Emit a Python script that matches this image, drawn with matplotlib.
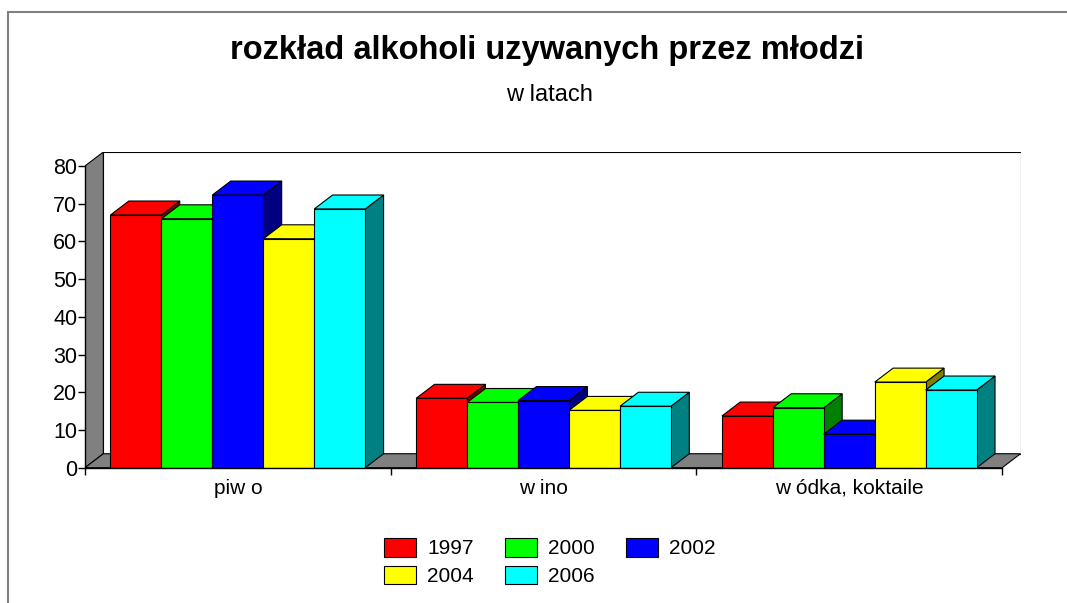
import matplotlib.pyplot as plt
from matplotlib.patches import Rectangle, Polygon, Patch

plt.rcParams['font.family'] = ['Liberation Sans', 'DejaVu Sans']

# data
categories = ['piw o', 'w ino', 'w ódka, koktaile']
years = ['1997', '2000', '2002', '2004', '2006']
v1997 = [67.0, 18.4, 13.7]
v2000 = [66.0, 17.3, 15.9]
v2002 = [72.3, 17.8, 8.9]
v2004 = [60.7, 15.2, 22.7]
v2006 = [68.6, 16.3, 20.6]
series = [v1997, v2000, v2002, v2004, v2006]

front_cols = ['#FF0000', '#00FF00', '#0000FF', '#FFFF00', '#00FFFF']
side_cols = ['#800000', '#008000', '#000080', '#808000', '#008080']
wall = '#808080'

W, H = 1067, 603
fig = plt.figure(figsize=(W / 100, H / 100), dpi=100)

# outer chart-area frame (cut off at right and bottom)
fig.add_artist(Rectangle((8 / W, -0.1), 1.2, 1.1 - 12 / H, transform=fig.transFigure,
                         fill=False, ec='#808080', lw=1.5))

ax = fig.add_axes([85 / W, 1 - 467.7 / H, 935.5 / W, 315.7 / H])
dx, dy = 0.06, 3.7          # depth offset of the 3-D effect (data units)
ymax = 80
n = len(categories)
ax.set_xlim(-0.5, n - 0.5 + dx)
ax.set_ylim(0, ymax + dy)

# walls and floor
x0, x1 = -0.5, n - 0.5
ax.add_patch(Rectangle((x0 + dx, dy), x1 - x0, ymax, fc='white', ec='black', lw=0.8, zorder=0))
ax.add_patch(Polygon([(x0, 0), (x0, ymax), (x0 + dx, ymax + dy), (x0 + dx, dy)],
                     fc=wall, ec='black', lw=0.8, zorder=1))
ax.add_patch(Polygon([(x0, 0), (x1, 0), (x1 + dx, dy), (x0 + dx, dy)],
                     fc=wall, ec='black', lw=0.8, zorder=1))


def bar3d(x, w, h, fc, sc, z):
    ax.add_patch(Polygon([(x + w, 0), (x + w + dx, dy), (x + w + dx, h + dy), (x + w, h)],
                         fc=sc, ec='black', lw=0.8, zorder=z))
    ax.add_patch(Polygon([(x, h), (x + w, h), (x + w + dx, h + dy), (x + dx, h + dy)],
                         fc=fc, ec='black', lw=0.8, zorder=z))
    ax.add_patch(Rectangle((x, 0), w, h, fc=fc, ec='black', lw=0.8, zorder=z))


bw = 1 / 6
z = 2
for c in range(n):
    for i, vals in enumerate(series):
        bar3d(c - 0.5 + bw / 2 + i * bw, bw, vals[c], front_cols[i], side_cols[i], z)
        z += 1

for s in ['top', 'right']:
    ax.spines[s].set_visible(False)
ax.spines['left'].set_bounds(0, ymax)
ax.spines['bottom'].set_bounds(x0, x1)
for s in ['left', 'bottom']:
    ax.spines[s].set_zorder(50)
    ax.spines[s].set_linewidth(1.0)

ax.set_yticks(range(0, ymax + 1, 10))
ax.tick_params(axis='y', direction='out', length=5, width=1.0, pad=0.5, labelsize=15.5)
ax.set_xticks([x0 + k for k in range(n + 1)])
ax.set_xticklabels([])
ax.tick_params(axis='x', which='major', direction='out', length=5, width=1.0)
ax.set_xticks(range(n), minor=True)
ax.set_xticklabels(categories, minor=True)
ax.tick_params(axis='x', which='minor', length=0, pad=8, labelsize=15)

fig.text(547 / W, 1 - 51 / H, 'rozkład alkoholi uzywanych przez młodzi',
         ha='center', va='center', fontsize=23.5, fontweight='bold')
fig.text(549 / W, 1 - 95 / H, 'w latach', ha='center', va='center', fontsize=17)

handles = [Patch(fc=front_cols[i], ec='black', lw=0.8) for i in range(len(years))]
order = [0, 3, 1, 4, 2]
ax.legend([handles[i] for i in order], [years[i] for i in order], ncol=3,
          loc='center', bbox_to_anchor=(550 / W, 1 - 562 / H), bbox_transform=fig.transFigure,
          frameon=False, fontsize=15, handlelength=1.54, handleheight=1.0,
          handletextpad=0.53, columnspacing=1.5, labelspacing=0.35)

fig.savefig('out.png', dpi=100)
